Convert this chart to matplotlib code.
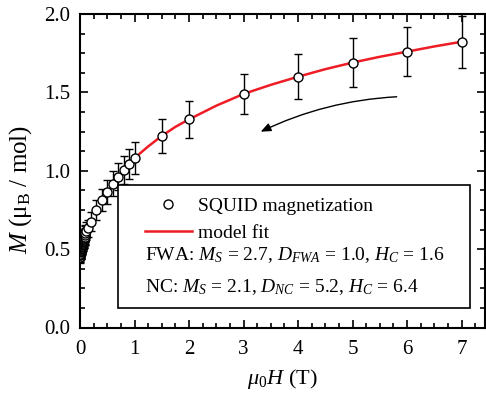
import matplotlib
matplotlib.use("Agg")
import matplotlib.pyplot as plt
from matplotlib.patches import Rectangle
from matplotlib.lines import Line2D
from matplotlib.ticker import MultipleLocator, FormatStrFormatter

plt.rcParams['font.family'] = ['Liberation Serif', 'DejaVu Serif']
plt.rcParams['mathtext.fontset'] = 'custom'
plt.rcParams['mathtext.rm'] = 'Liberation Serif'
plt.rcParams['mathtext.it'] = 'Liberation Serif:italic'
plt.rcParams['mathtext.bf'] = 'Liberation Serif:bold'

# ---- data ----
field_low = [0.0, 0.003, 0.006, 0.009, 0.012, 0.015, 0.018, 0.021, 0.024, 0.027,
             0.03, 0.033, 0.036, 0.04, 0.044, 0.048, 0.052, 0.056, 0.06, 0.065,
             0.07, 0.075, 0.08, 0.085, 0.09, 0.095, 0.10, 0.11]
mag_low = [0.45, 0.46, 0.465, 0.47, 0.48, 0.485, 0.49, 0.495, 0.50, 0.505,
           0.51, 0.515, 0.52, 0.525, 0.53, 0.535, 0.54, 0.545, 0.55, 0.555,
           0.56, 0.565, 0.57, 0.575, 0.58, 0.59, 0.60, 0.615]
err_low = [0.04, 0.04, 0.04, 0.04, 0.045, 0.045, 0.045, 0.045, 0.045, 0.045,
           0.045, 0.045, 0.05, 0.05, 0.05, 0.05, 0.05, 0.05, 0.05, 0.05,
           0.05, 0.05, 0.05, 0.05, 0.055, 0.055, 0.055, 0.055]

field = [0.14, 0.2, 0.3, 0.4, 0.5, 0.6, 0.7, 0.8, 0.9, 1.0, 1.5, 2.0, 3.0, 4.0, 5.0, 6.0, 7.0]
mag = [0.633, 0.675, 0.75, 0.812, 0.866, 0.918, 0.962, 1.005, 1.043, 1.081,
       1.222, 1.328, 1.49, 1.60, 1.69, 1.76, 1.823]
mag_err = [0.055, 0.06, 0.065, 0.07, 0.075, 0.08, 0.085, 0.09, 0.095, 0.10,
           0.11, 0.12, 0.13, 0.145, 0.155, 0.158, 0.165]

fit_field = [1.0, 1.25, 1.5, 1.75, 2.0, 2.5, 3.0, 3.5, 4.0, 4.5, 5.0, 5.5, 6.0, 6.5, 7.0]
fit_mag = [1.081, 1.155, 1.222, 1.28, 1.328, 1.415, 1.49, 1.548, 1.60, 1.648,
           1.69, 1.727, 1.76, 1.793, 1.823]

legend_labels = ["SQUID magnetization", "model fit"]
fwa_text = r"FWA: $M_{S}$ = 2.7, $D_{FWA}$ = 1.0, $H_{C}$ = 1.6"
nc_text = r"NC: $M_{S}$ = 2.1, $D_{NC}$ = 5.2, $H_{C}$ = 6.4"

# ---- figure ----
fig = plt.figure(figsize=(4.86, 3.96), dpi=100)
ax = fig.add_axes([80/486, 1-327.5/396, 405/486, 313.5/396])

ax.plot(fit_field, fit_mag, color='#ee1c25', lw=1.8, zorder=2)
ebkw = dict(fmt='o', ms=6.5, mfc='white', mec='black', mew=1.0, ecolor='black',
            elinewidth=1.0, capsize=3, capthick=1.0, zorder=3)
ax.errorbar(field_low, mag_low, yerr=err_low, **ebkw)
ax.errorbar(field, mag, yerr=mag_err, **ebkw)

ax.set_xlim(0, 7.43)
ax.set_ylim(0, 2.0)
ax.xaxis.set_major_locator(MultipleLocator(1))
ax.xaxis.set_minor_locator(MultipleLocator(0.25))
ax.yaxis.set_major_locator(MultipleLocator(0.5))
ax.yaxis.set_minor_locator(MultipleLocator(0.125))
ax.yaxis.set_major_formatter(FormatStrFormatter('%.1f'))
ax.tick_params(which='both', direction='in', top=True, right=True, labelsize=15, width=1.2)
ax.tick_params(which='major', length=6)
ax.tick_params(which='minor', length=3.5)
ax.tick_params(axis='x', which='major', pad=9)
ax.tick_params(axis='y', which='major', pad=7)
for s in ax.spines.values():
    s.set_linewidth(1.5)

ax.set_xlabel(r"$\mu_0H$ (T)", fontsize=16, labelpad=6)
ax.set_ylabel(r"$M$ (μ$_\mathrm{B}$ / mol)", fontsize=18)
ax.yaxis.set_label_coords(-0.114, 0.44)

# legend box
x0, x1 = (118-80)/405, (470-80)/405
yb, yt = (327.5-308)/313.5, (327.5-185)/313.5
ax.add_patch(Rectangle((x0, yb), x1-x0, yt-yb, transform=ax.transAxes,
                       fill=True, facecolor='white', edgecolor='black', lw=1.2, zorder=5))
handles = [Line2D([], [], ls='none', marker='o', ms=6.5, mfc='white', mec='black', mew=1.0),
           Line2D([], [], color='#ee1c25', lw=1.8)]
leg = ax.legend(handles, legend_labels, loc='upper left',
                bbox_to_anchor=((145-80)/405, (327.5-197)/313.5),
                frameon=False, fontsize=14, handlelength=2.4, handletextpad=0.3,
                labelspacing=0.48, borderaxespad=0, borderpad=0)
leg.set_zorder(6)
ax.text((145-80)/405, (327.5-255)/313.5, fwa_text, transform=ax.transAxes,
        fontsize=14, va='center', ha='left', zorder=6)
ax.text((145-80)/405, (327.5-287)/313.5, nc_text, transform=ax.transAxes,
        fontsize=14, va='center', ha='left', zorder=6)

ax.annotate("", xy=(3.315, 1.249), xytext=(5.81, 1.472),
            arrowprops=dict(arrowstyle='-|>,head_length=0.6,head_width=0.25',
                            color='black', lw=1.0,
                            connectionstyle='arc3,rad=0.1', shrinkA=0, shrinkB=0))

fig.savefig("out.png", dpi=100)
